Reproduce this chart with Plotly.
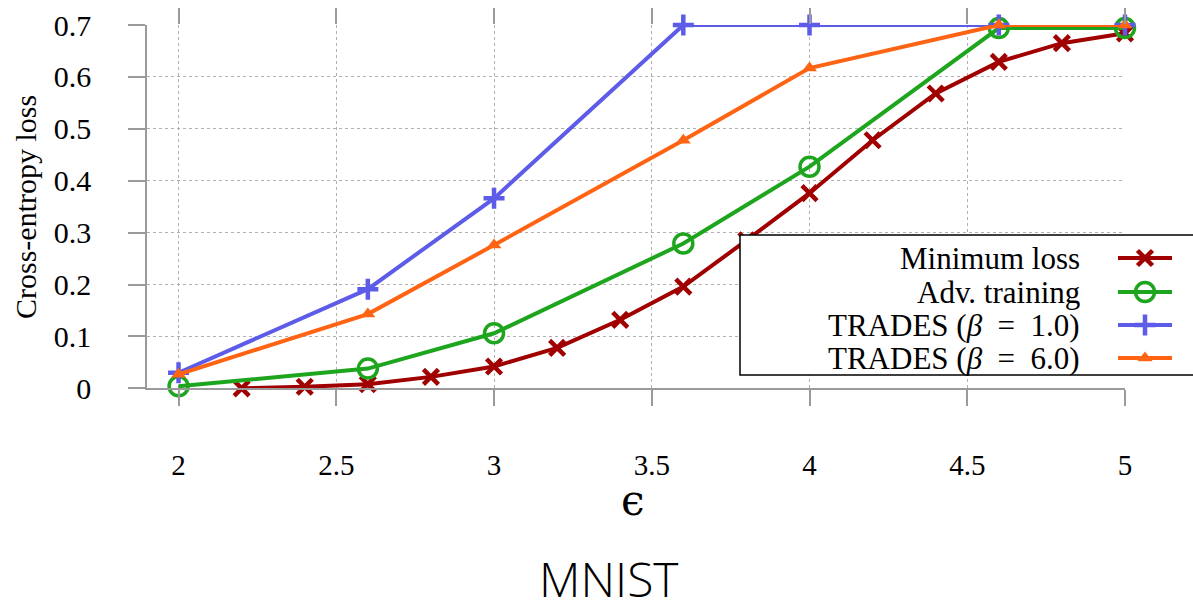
import plotly.graph_objects as go

# ---- data -------------------------------------------------------------
eps_min = [2.2, 2.4, 2.6, 2.8, 3.0, 3.2, 3.4, 3.6, 3.8, 4.0, 4.2, 4.4, 4.6, 4.8, 5.0]
loss_min = [0.0, 0.003, 0.008, 0.022, 0.042, 0.078, 0.132, 0.196, 0.285, 0.376,
            0.478, 0.568, 0.629, 0.665, 0.684]

eps_grid = [2.0, 2.6, 3.0, 3.6, 4.0, 4.6, 5.0]
loss_adv = [0.004, 0.038, 0.106, 0.279, 0.427, 0.694, 0.694]
loss_trades1 = [0.030, 0.191, 0.366, 0.700, 0.700, 0.700, 0.700]
loss_trades6 = [0.027, 0.143, 0.276, 0.478, 0.617, 0.700, 0.700]

x_ticks = [2, 2.5, 3, 3.5, 4, 4.5, 5]
x_tick_text = ["2", "2.5", "3", "3.5", "4", "4.5", "5"]
y_ticks = [0, 0.1, 0.2, 0.3, 0.4, 0.5, 0.6, 0.7]
y_tick_text = ["0", "0.1", "0.2", "0.3", "0.4", "0.5", "0.6", "0.7"]

NB = "\u00a0"
series_names = ["Minimum loss", "Adv. training",
                f"TRADES (<i>β</i>{NB}{NB}={NB}{NB}1.0)",
                f"TRADES (<i>β</i>{NB}{NB}={NB}{NB}6.0)"]

# ---- styles -----------------------------------------------------------
RED = "#a00000"
GREEN = "#1ea51e"
BLUE = "#5c5ce8"
ORANGE = "#ff6414"
SERIF = "Liberation Serif, Times New Roman, DejaVu Serif, serif"
AXIS_GRAY = "#9a9a9a"

W, H = 1193, 613
# plot-area corners in pixels
PL, PR, PT, PB = 147, 1125, 25, 388.3

styles = [
    dict(color=RED, symbol="x-thin", size=15, mlw=4.5, fill=RED),
    dict(color=GREEN, symbol="circle-open", size=19, mlw=3.5, fill=GREEN),
    dict(color=BLUE, symbol="cross-thin", size=15, mlw=4.5, fill=BLUE),
    dict(color=ORANGE, symbol="triangle-up", size=13, mlw=0, fill=ORANGE),
]

fig = go.Figure()

series = [(eps_min, loss_min), (eps_grid, loss_adv),
          (eps_grid, loss_trades1), (eps_grid, loss_trades6)]
for (xs, ys), st, name in zip(series, styles, series_names):
    fig.add_trace(go.Scatter(
        x=xs, y=ys, mode="lines+markers", name=name, showlegend=False,
        cliponaxis=False,
        line=dict(color=st["color"], width=4),
        marker=dict(symbol=st["symbol"], size=st["size"], color=st["fill"],
                    line=dict(color=st["color"], width=st["mlw"])),
        xaxis="x", yaxis="y",
    ))

# ---- hand-drawn legend in a pixel-space subplot -------------------------
box_l, box_t, box_b, box_r = 740, 235, 375, 1205
fig.add_trace(go.Scatter(
    x=[box_l, box_r, box_r, box_l, box_l],
    y=[box_t, box_t, box_b, box_b, box_t],
    mode="lines", fill="toself", fillcolor="white",
    line=dict(color="black", width=1.5), showlegend=False,
    hoverinfo="skip", xaxis="x3", yaxis="y3",
))
row_y = [258, 292, 325, 358]
for ry, st in zip(row_y, styles):
    fig.add_trace(go.Scatter(
        x=[1118, 1172], y=[ry, ry], mode="lines", showlegend=False,
        line=dict(color=st["color"], width=4), hoverinfo="skip",
        xaxis="x3", yaxis="y3",
    ))
    fig.add_trace(go.Scatter(
        x=[1145], y=[ry], mode="markers", showlegend=False, hoverinfo="skip",
        marker=dict(symbol=st["symbol"], size=st["size"], color=st["fill"],
                    line=dict(color=st["color"], width=st["mlw"])),
        xaxis="x3", yaxis="y3",
    ))

annotations = []
for ry, name in zip(row_y, series_names):
    annotations.append(dict(
        x=1082, y=ry, xref="x3", yref="y3", text=name, showarrow=False,
        xanchor="right", yanchor="middle",
        font=dict(family=SERIF, size=31, color="black"),
    ))

# axis titles and panel caption
annotations.append(dict(
    x=25, y=207, xref="x3", yref="y3", text="Cross-entropy loss",
    showarrow=False, textangle=-90, xanchor="center", yanchor="middle",
    font=dict(family=SERIF, size=30, color="black"),
))
annotations.append(dict(
    x=633, y=500, xref="x3", yref="y3", text="ϵ",
    showarrow=False, xanchor="center", yanchor="middle",
    font=dict(family="DejaVu Serif, serif", size=42, color="black"),
))
annotations.append(dict(
    x=609, y=613, xref="x3", yref="y3", text="MNIST",
    showarrow=False, xanchor="center", yanchor="bottom",
    font=dict(family="Open Sans, sans-serif", size=48, color="black",
              weight=300),
))

x_dom = [PL / W, PR / W]
y_dom = [1 - PB / H, 1 - PT / H]

fig.update_layout(
    width=W, height=H,
    margin=dict(l=0, r=0, t=0, b=0),
    paper_bgcolor="white", plot_bgcolor="rgba(0,0,0,0)",
    showlegend=False,
    xaxis=dict(
        domain=x_dom, range=[1.9, 5.0], anchor="y",
        tickvals=x_ticks, ticktext=x_tick_text,
        ticks="outside", ticklen=16, tickwidth=1.5, tickcolor=AXIS_GRAY,
        showline=True, linecolor=AXIS_GRAY, linewidth=1.5,
        showgrid=True, gridcolor="#b0b0b0", griddash="dot", gridwidth=1,
        zeroline=False, automargin=False, ticklabelstandoff=34,
        tickfont=dict(family=SERIF, size=29, color="black"),
    ),
    xaxis2=dict(
        overlaying="x", side="top", range=[1.9, 5.0], anchor="y",
        tickvals=x_ticks, ticks="outside", ticklen=16, tickwidth=1.5,
        tickcolor=AXIS_GRAY, showticklabels=False, showgrid=False,
        showline=False, zeroline=False, automargin=False,
    ),
    yaxis=dict(
        domain=y_dom, range=[0, 0.7], anchor="x",
        tickvals=y_ticks, ticktext=y_tick_text,
        ticks="outside", ticklen=17, tickwidth=1.5, tickcolor=AXIS_GRAY,
        showline=True, linecolor=AXIS_GRAY, linewidth=1.5,
        showgrid=True, gridcolor="#b0b0b0", griddash="dot", gridwidth=1,
        zeroline=False, automargin=False, ticklabelstandoff=31,
        tickfont=dict(family=SERIF, size=30, color="black"),
    ),
    xaxis3=dict(domain=[0, 1], range=[0, W], anchor="y3", visible=False,
                fixedrange=True),
    yaxis3=dict(domain=[0, 1], range=[H, 0], anchor="x3", visible=False,
                fixedrange=True),
    annotations=annotations,
)

# a dummy trace keeps the top tick axis active
fig.add_trace(go.Scatter(x=[2], y=[0], mode="markers", opacity=0,
                         showlegend=False, hoverinfo="skip",
                         xaxis="x2", yaxis="y"))

fig.write_html("out.html")
